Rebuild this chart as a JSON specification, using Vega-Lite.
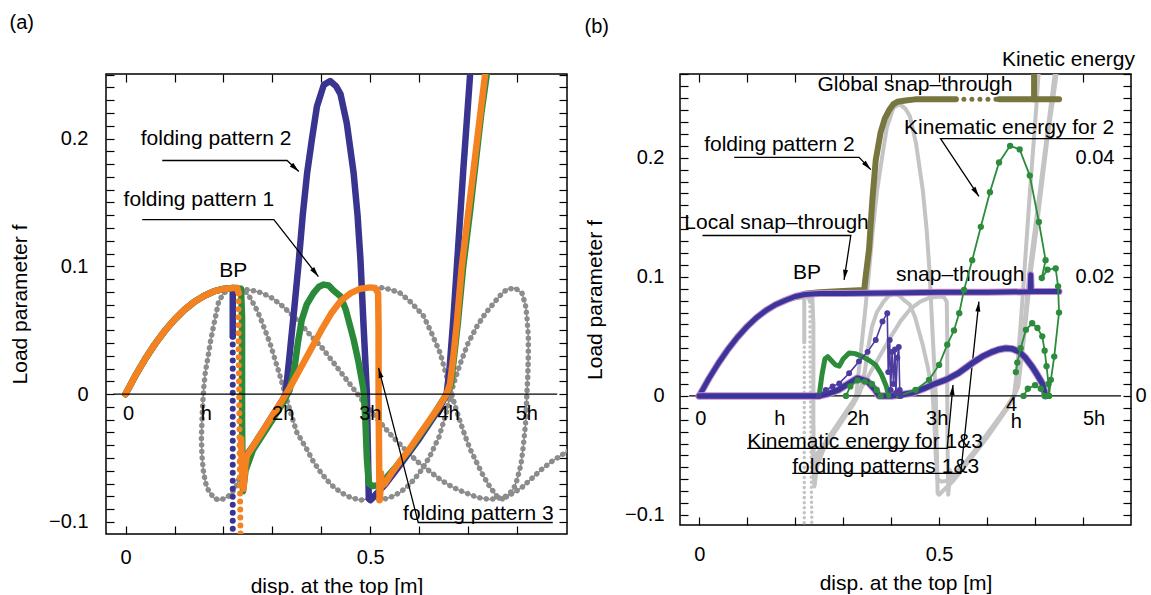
{
"$schema": "https://vega.github.io/schema/vega-lite/v6.json",
"background": "white",
"padding": {"left": 8, "top": 12, "right": 2, "bottom": 2},
"spacing": 14,
"config": {
  "font": "Liberation Sans",
  "view": {"stroke": "black", "strokeWidth": 1.5},
  "axis": {"domain": false, "grid": false, "labelFont": "Liberation Sans", "labelFontSize": 20, "labelColor": "black", "titleFont": "Liberation Sans", "titleFontSize": 21, "titleFontWeight": "normal", "titleColor": "black", "tickColor": "black", "tickWidth": 1.2, "tickSize": -8, "labelOverlap": false, "labelBound": false, "labelFlush": false},
  "title": {"font": "Liberation Sans", "fontSize": 20, "fontWeight": "normal", "color": "black", "anchor": "start", "frame": "bounds"},
  "text": {"font": "Liberation Sans", "fontSize": 21, "color": "black"}
},
"datasets": {
  "pa": [
    {"seg":"b1","k":"l","x":0,"y":0},{"seg":"b1","k":"l","x":0.02,"y":0.0144},{"seg":"b1","k":"l","x":0.04,"y":0.0274},{"seg":"b1","k":"l","x":0.06,"y":0.0391},{"seg":"b1","k":"l","x":0.08,"y":0.0494},{"seg":"b1","k":"l","x":0.1,"y":0.0583},{"seg":"b1","k":"l","x":0.12,"y":0.0659},{"seg":"b1","k":"l","x":0.14,"y":0.072},{"seg":"b1","k":"l","x":0.16,"y":0.0768},{"seg":"b1","k":"l","x":0.18,"y":0.0803},{"seg":"b1","k":"l","x":0.2,"y":0.0823},{"seg":"b1","k":"l","x":0.219,"y":0.083},{"seg":"b1","k":"l","x":0.219,"y":0.06},{"seg":"b1","k":"l","x":0.219,"y":0.045},
    {"seg":"b2","k":"d","x":0.219,"y":0.045},{"seg":"b2","k":"d","x":0.219,"y":0},{"seg":"b2","k":"d","x":0.219,"y":-0.05},{"seg":"b2","k":"d","x":0.219,"y":-0.115},
    {"seg":"b3","k":"l","x":0.243,"y":-0.05},{"seg":"b3","k":"l","x":0.26,"y":-0.041},{"seg":"b3","k":"l","x":0.28,"y":-0.029},{"seg":"b3","k":"l","x":0.3,"y":-0.017},{"seg":"b3","k":"l","x":0.32,"y":-0.005},{"seg":"b3","k":"l","x":0.327,"y":0},{"seg":"b3","k":"l","x":0.335,"y":0.03},{"seg":"b3","k":"l","x":0.345,"y":0.068},{"seg":"b3","k":"l","x":0.353,"y":0.1},{"seg":"b3","k":"l","x":0.362,"y":0.14},{"seg":"b3","k":"l","x":0.371,"y":0.173},{"seg":"b3","k":"l","x":0.381,"y":0.2},{"seg":"b3","k":"l","x":0.391,"y":0.225},{"seg":"b3","k":"l","x":0.405,"y":0.242},{"seg":"b3","k":"l","x":0.418,"y":0.245},{"seg":"b3","k":"l","x":0.43,"y":0.241},{"seg":"b3","k":"l","x":0.439,"y":0.235},{"seg":"b3","k":"l","x":0.452,"y":0.212},{"seg":"b3","k":"l","x":0.466,"y":0.173},{"seg":"b3","k":"l","x":0.474,"y":0.14},{"seg":"b3","k":"l","x":0.48,"y":0.105},{"seg":"b3","k":"l","x":0.486,"y":0.056},{"seg":"b3","k":"l","x":0.49,"y":0.025},{"seg":"b3","k":"l","x":0.493,"y":0.001},{"seg":"b3","k":"l","x":0.495,"y":-0.04},{"seg":"b3","k":"l","x":0.497,"y":-0.082},{"seg":"b3","k":"l","x":0.5,"y":-0.083},{"seg":"b3","k":"l","x":0.51,"y":-0.079},{"seg":"b3","k":"l","x":0.53,"y":-0.071},{"seg":"b3","k":"l","x":0.56,"y":-0.056},{"seg":"b3","k":"l","x":0.6,"y":-0.035},{"seg":"b3","k":"l","x":0.64,"y":-0.012},{"seg":"b3","k":"l","x":0.656,"y":0},{"seg":"b3","k":"l","x":0.662,"y":0.02},{"seg":"b3","k":"l","x":0.67,"y":0.06},{"seg":"b3","k":"l","x":0.677,"y":0.1},{"seg":"b3","k":"l","x":0.69,"y":0.175},{"seg":"b3","k":"l","x":0.704,"y":0.25},{"seg":"b3","k":"l","x":0.709,"y":0.28},
    {"seg":"g1","k":"l","x":0,"y":0},{"seg":"g1","k":"l","x":0.02,"y":0.0144},{"seg":"g1","k":"l","x":0.04,"y":0.0274},{"seg":"g1","k":"l","x":0.06,"y":0.0391},{"seg":"g1","k":"l","x":0.08,"y":0.0494},{"seg":"g1","k":"l","x":0.1,"y":0.0583},{"seg":"g1","k":"l","x":0.12,"y":0.0659},{"seg":"g1","k":"l","x":0.14,"y":0.072},{"seg":"g1","k":"l","x":0.16,"y":0.0768},{"seg":"g1","k":"l","x":0.18,"y":0.0803},{"seg":"g1","k":"l","x":0.2,"y":0.0823},{"seg":"g1","k":"l","x":0.22,"y":0.083},{"seg":"g1","k":"l","x":0.228,"y":0.083},{"seg":"g1","k":"l","x":0.236,"y":0.082},{"seg":"g1","k":"l","x":0.238,"y":0.06},{"seg":"g1","k":"l","x":0.238,"y":0.02},{"seg":"g1","k":"l","x":0.238,"y":-0.02},{"seg":"g1","k":"l","x":0.239,"y":-0.06},{"seg":"g1","k":"l","x":0.24,"y":-0.076},{"seg":"g1","k":"l","x":0.245,"y":-0.06},{"seg":"g1","k":"l","x":0.26,"y":-0.044},{"seg":"g1","k":"l","x":0.28,"y":-0.032},{"seg":"g1","k":"l","x":0.3,"y":-0.02},{"seg":"g1","k":"l","x":0.32,"y":-0.008},{"seg":"g1","k":"l","x":0.335,"y":0.003},{"seg":"g1","k":"l","x":0.345,"y":0.02},{"seg":"g1","k":"l","x":0.352,"y":0.04},{"seg":"g1","k":"l","x":0.36,"y":0.058},{"seg":"g1","k":"l","x":0.37,"y":0.07},{"seg":"g1","k":"l","x":0.384,"y":0.079},{"seg":"g1","k":"l","x":0.395,"y":0.084},{"seg":"g1","k":"l","x":0.405,"y":0.0857},{"seg":"g1","k":"l","x":0.415,"y":0.085},{"seg":"g1","k":"l","x":0.425,"y":0.081},{"seg":"g1","k":"l","x":0.439,"y":0.0766},{"seg":"g1","k":"l","x":0.45,"y":0.066},{"seg":"g1","k":"l","x":0.466,"y":0.0427},{"seg":"g1","k":"l","x":0.476,"y":0.025},{"seg":"g1","k":"l","x":0.486,"y":0.004},{"seg":"g1","k":"l","x":0.49,"y":-0.02},{"seg":"g1","k":"l","x":0.493,"y":-0.05},{"seg":"g1","k":"l","x":0.497,"y":-0.07},{"seg":"g1","k":"l","x":0.505,"y":-0.072},{"seg":"g1","k":"l","x":0.52,"y":-0.071},{"seg":"g1","k":"l","x":0.55,"y":-0.058},{"seg":"g1","k":"l","x":0.58,"y":-0.044},{"seg":"g1","k":"l","x":0.62,"y":-0.022},{"seg":"g1","k":"l","x":0.656,"y":0},{"seg":"g1","k":"l","x":0.665,"y":0.008},{"seg":"g1","k":"l","x":0.679,"y":0.056},{"seg":"g1","k":"l","x":0.69,"y":0.1},{"seg":"g1","k":"l","x":0.703,"y":0.14},{"seg":"g1","k":"l","x":0.715,"y":0.18},{"seg":"g1","k":"l","x":0.727,"y":0.22},{"seg":"g1","k":"l","x":0.738,"y":0.25},{"seg":"g1","k":"l","x":0.748,"y":0.28},
    {"seg":"o1","k":"l","x":0,"y":0},{"seg":"o1","k":"l","x":0.02,"y":0.0144},{"seg":"o1","k":"l","x":0.04,"y":0.0274},{"seg":"o1","k":"l","x":0.06,"y":0.0391},{"seg":"o1","k":"l","x":0.08,"y":0.0494},{"seg":"o1","k":"l","x":0.1,"y":0.0583},{"seg":"o1","k":"l","x":0.12,"y":0.0659},{"seg":"o1","k":"l","x":0.14,"y":0.072},{"seg":"o1","k":"l","x":0.16,"y":0.0768},{"seg":"o1","k":"l","x":0.18,"y":0.0803},{"seg":"o1","k":"l","x":0.2,"y":0.0823},{"seg":"o1","k":"l","x":0.22,"y":0.083},{"seg":"o1","k":"l","x":0.228,"y":0.083},{"seg":"o1","k":"l","x":0.231,"y":0.079},
    {"seg":"o2","k":"d","x":0.231,"y":0.079},{"seg":"o2","k":"d","x":0.231,"y":0.04},{"seg":"o2","k":"d","x":0.232,"y":0},{"seg":"o2","k":"d","x":0.233,"y":-0.04},{"seg":"o2","k":"d","x":0.234,"y":-0.08},{"seg":"o2","k":"d","x":0.235,"y":-0.115},
    {"seg":"o3","k":"l","x":0.236,"y":-0.035},{"seg":"o3","k":"l","x":0.238,"y":-0.06},{"seg":"o3","k":"l","x":0.241,"y":-0.074},{"seg":"o3","k":"l","x":0.245,"y":-0.055},{"seg":"o3","k":"l","x":0.248,"y":-0.048},{"seg":"o3","k":"l","x":0.26,"y":-0.041},{"seg":"o3","k":"l","x":0.28,"y":-0.029},{"seg":"o3","k":"l","x":0.3,"y":-0.017},{"seg":"o3","k":"l","x":0.32,"y":-0.005},{"seg":"o3","k":"l","x":0.34,"y":0.008},{"seg":"o3","k":"l","x":0.36,"y":0.022},{"seg":"o3","k":"l","x":0.38,"y":0.036},{"seg":"o3","k":"l","x":0.4,"y":0.05},{"seg":"o3","k":"l","x":0.42,"y":0.063},{"seg":"o3","k":"l","x":0.44,"y":0.073},{"seg":"o3","k":"l","x":0.46,"y":0.079},{"seg":"o3","k":"l","x":0.48,"y":0.0825},{"seg":"o3","k":"l","x":0.5,"y":0.0835},{"seg":"o3","k":"l","x":0.51,"y":0.083},{"seg":"o3","k":"l","x":0.516,"y":0.079},{"seg":"o3","k":"l","x":0.517,"y":0.05},{"seg":"o3","k":"l","x":0.517,"y":0},{"seg":"o3","k":"l","x":0.518,"y":-0.05},{"seg":"o3","k":"l","x":0.519,"y":-0.083},{"seg":"o3","k":"l","x":0.521,"y":-0.075},{"seg":"o3","k":"l","x":0.522,"y":-0.062},{"seg":"o3","k":"l","x":0.523,"y":-0.072},{"seg":"o3","k":"l","x":0.53,"y":-0.07},{"seg":"o3","k":"l","x":0.545,"y":-0.061},{"seg":"o3","k":"l","x":0.56,"y":-0.053},{"seg":"o3","k":"l","x":0.58,"y":-0.043},{"seg":"o3","k":"l","x":0.6,"y":-0.032},{"seg":"o3","k":"l","x":0.62,"y":-0.021},{"seg":"o3","k":"l","x":0.64,"y":-0.01},{"seg":"o3","k":"l","x":0.656,"y":0},{"seg":"o3","k":"l","x":0.663,"y":0.008},{"seg":"o3","k":"l","x":0.67,"y":0.03},{"seg":"o3","k":"l","x":0.677,"y":0.056},{"seg":"o3","k":"l","x":0.687,"y":0.1},{"seg":"o3","k":"l","x":0.7,"y":0.141},{"seg":"o3","k":"l","x":0.71,"y":0.172},{"seg":"o3","k":"l","x":0.72,"y":0.204},{"seg":"o3","k":"l","x":0.735,"y":0.251},{"seg":"o3","k":"l","x":0.745,"y":0.283}
  ],
  "ga": [
    {"s":"1","x":0.228,"y":0.083},{"s":"1","x":0.215,"y":0.082},{"s":"1","x":0.2,"y":0.079},{"s":"1","x":0.19,"y":0.072},{"s":"1","x":0.184,"y":0.061},{"s":"1","x":0.178,"y":0.05},{"s":"1","x":0.173,"y":0.04},{"s":"1","x":0.168,"y":0.028},{"s":"1","x":0.163,"y":0.017},{"s":"1","x":0.16,"y":0.006},{"s":"1","x":0.158,"y":-0.005},{"s":"1","x":0.156,"y":-0.022},{"s":"1","x":0.155,"y":-0.035},{"s":"1","x":0.156,"y":-0.048},{"s":"1","x":0.159,"y":-0.06},{"s":"1","x":0.163,"y":-0.069},{"s":"1","x":0.17,"y":-0.076},{"s":"1","x":0.18,"y":-0.081},{"s":"1","x":0.19,"y":-0.083},{"s":"1","x":0.2,"y":-0.082},{"s":"1","x":0.21,"y":-0.08},{"s":"1","x":0.218,"y":-0.077},{"s":"1","x":0.226,"y":-0.072},{"s":"1","x":0.232,"y":-0.066},
    {"s":"2","x":0.236,"y":0.083},{"s":"2","x":0.241,"y":0.082},{"s":"2","x":0.25,"y":0.078},{"s":"2","x":0.258,"y":0.073},{"s":"2","x":0.268,"y":0.066},{"s":"2","x":0.276,"y":0.059},{"s":"2","x":0.285,"y":0.05},{"s":"2","x":0.295,"y":0.04},{"s":"2","x":0.303,"y":0.03},{"s":"2","x":0.315,"y":0.015},{"s":"2","x":0.327,"y":-0.001},{"s":"2","x":0.34,"y":-0.018},{"s":"2","x":0.35,"y":-0.03},{"s":"2","x":0.37,"y":-0.043},{"s":"2","x":0.384,"y":-0.053},{"s":"2","x":0.4,"y":-0.062},{"s":"2","x":0.42,"y":-0.071},{"s":"2","x":0.44,"y":-0.077},{"s":"2","x":0.46,"y":-0.081},{"s":"2","x":0.48,"y":-0.083},{"s":"2","x":0.495,"y":-0.082},
    {"s":"3","x":0.235,"y":0.0825},{"s":"3","x":0.26,"y":0.081},{"s":"3","x":0.28,"y":0.079},{"s":"3","x":0.3,"y":0.075},{"s":"3","x":0.32,"y":0.069},{"s":"3","x":0.34,"y":0.062},{"s":"3","x":0.36,"y":0.054},{"s":"3","x":0.38,"y":0.045},{"s":"3","x":0.4,"y":0.037},{"s":"3","x":0.42,"y":0.027},{"s":"3","x":0.44,"y":0.017},{"s":"3","x":0.46,"y":0.007},{"s":"3","x":0.48,"y":-0.003},{"s":"3","x":0.5,"y":-0.013},{"s":"3","x":0.52,"y":-0.022},{"s":"3","x":0.54,"y":-0.031},{"s":"3","x":0.56,"y":-0.039},{"s":"3","x":0.58,"y":-0.047},{"s":"3","x":0.6,"y":-0.054},{"s":"3","x":0.62,"y":-0.06},{"s":"3","x":0.64,"y":-0.066},{"s":"3","x":0.66,"y":-0.071},{"s":"3","x":0.68,"y":-0.075},{"s":"3","x":0.7,"y":-0.078},{"s":"3","x":0.72,"y":-0.081},{"s":"3","x":0.745,"y":-0.0825},{"s":"3","x":0.77,"y":-0.081},{"s":"3","x":0.79,"y":-0.078},{"s":"3","x":0.81,"y":-0.073},{"s":"3","x":0.83,"y":-0.066},{"s":"3","x":0.85,"y":-0.059},{"s":"3","x":0.87,"y":-0.053},{"s":"3","x":0.89,"y":-0.048},{"s":"3","x":0.91,"y":-0.043},
    {"s":"4","x":0.51,"y":0.083},{"s":"4","x":0.52,"y":0.0835},{"s":"4","x":0.54,"y":0.082},{"s":"4","x":0.561,"y":0.079},{"s":"4","x":0.58,"y":0.073},{"s":"4","x":0.595,"y":0.067},{"s":"4","x":0.609,"y":0.061},{"s":"4","x":0.625,"y":0.048},{"s":"4","x":0.643,"y":0.032},{"s":"4","x":0.653,"y":0.018},{"s":"4","x":0.663,"y":0.004},{"s":"4","x":0.674,"y":-0.01},{"s":"4","x":0.684,"y":-0.022},{"s":"4","x":0.694,"y":-0.033},{"s":"4","x":0.704,"y":-0.043},{"s":"4","x":0.718,"y":-0.054},{"s":"4","x":0.731,"y":-0.064},{"s":"4","x":0.745,"y":-0.073},{"s":"4","x":0.759,"y":-0.08},{"s":"4","x":0.77,"y":-0.082},
    {"s":"5","x":0.505,"y":-0.082},{"s":"5","x":0.52,"y":-0.083},{"s":"5","x":0.54,"y":-0.081},{"s":"5","x":0.561,"y":-0.077},{"s":"5","x":0.58,"y":-0.071},{"s":"5","x":0.6,"y":-0.062},{"s":"5","x":0.62,"y":-0.05},{"s":"5","x":0.64,"y":-0.034},{"s":"5","x":0.655,"y":-0.015},{"s":"5","x":0.663,"y":-0.002},{"s":"5","x":0.672,"y":0.01},{"s":"5","x":0.684,"y":0.024},{"s":"5","x":0.7,"y":0.04},{"s":"5","x":0.718,"y":0.053},{"s":"5","x":0.735,"y":0.063},{"s":"5","x":0.752,"y":0.071},{"s":"5","x":0.765,"y":0.077},{"s":"5","x":0.779,"y":0.082},{"s":"5","x":0.796,"y":0.083},{"s":"5","x":0.81,"y":0.079},{"s":"5","x":0.817,"y":0.07},{"s":"5","x":0.82,"y":0.061},{"s":"5","x":0.823,"y":0.045},{"s":"5","x":0.823,"y":0.03},{"s":"5","x":0.822,"y":0.015},{"s":"5","x":0.82,"y":0},{"s":"5","x":0.818,"y":-0.02},{"s":"5","x":0.813,"y":-0.04},{"s":"5","x":0.808,"y":-0.055},{"s":"5","x":0.8,"y":-0.067},{"s":"5","x":0.793,"y":-0.074},{"s":"5","x":0.78,"y":-0.08},{"s":"5","x":0.77,"y":-0.082}
  ],
  "ob": [
    {"seg":"ol1","x":0,"y":0},{"seg":"ol1","x":0.02,"y":0.0144},{"seg":"ol1","x":0.04,"y":0.0274},{"seg":"ol1","x":0.06,"y":0.0391},{"seg":"ol1","x":0.08,"y":0.0494},{"seg":"ol1","x":0.1,"y":0.0583},{"seg":"ol1","x":0.12,"y":0.0659},{"seg":"ol1","x":0.14,"y":0.072},{"seg":"ol1","x":0.16,"y":0.0768},{"seg":"ol1","x":0.18,"y":0.0805},{"seg":"ol1","x":0.2,"y":0.083},{"seg":"ol1","x":0.22,"y":0.0857},{"seg":"ol1","x":0.25,"y":0.087},{"seg":"ol1","x":0.3,"y":0.088},{"seg":"ol1","x":0.344,"y":0.089},{"seg":"ol1","x":0.346,"y":0.097},{"seg":"ol1","x":0.35,"y":0.11},{"seg":"ol1","x":0.354,"y":0.123},{"seg":"ol1","x":0.361,"y":0.165},{"seg":"ol1","x":0.368,"y":0.198},{"seg":"ol1","x":0.378,"y":0.221},{"seg":"ol1","x":0.387,"y":0.233},{"seg":"ol1","x":0.396,"y":0.24},{"seg":"ol1","x":0.405,"y":0.245},{"seg":"ol1","x":0.413,"y":0.247},{"seg":"ol1","x":0.43,"y":0.248},{"seg":"ol1","x":0.45,"y":0.249},{"seg":"ol1","x":0.5,"y":0.249},{"seg":"ol1","x":0.535,"y":0.249},
    {"seg":"ol2","x":0.535,"y":0.249},{"seg":"ol2","x":0.625,"y":0.249},
    {"seg":"ol3","x":0.625,"y":0.249},{"seg":"ol3","x":0.698,"y":0.249},{"seg":"ol3","x":0.75,"y":0.249},
    {"seg":"ol4","x":0.698,"y":0.249},{"seg":"ol4","x":0.698,"y":0.29},
    {"seg":"bl","x":0,"y":0},{"seg":"bl","x":0.02,"y":0.0144},{"seg":"bl","x":0.04,"y":0.0274},{"seg":"bl","x":0.06,"y":0.0391},{"seg":"bl","x":0.08,"y":0.0494},{"seg":"bl","x":0.1,"y":0.0583},{"seg":"bl","x":0.12,"y":0.0659},{"seg":"bl","x":0.14,"y":0.072},{"seg":"bl","x":0.16,"y":0.0768},{"seg":"bl","x":0.18,"y":0.0803},{"seg":"bl","x":0.2,"y":0.0835},{"seg":"bl","x":0.22,"y":0.0852},{"seg":"bl","x":0.25,"y":0.086},{"seg":"bl","x":0.3,"y":0.086},{"seg":"bl","x":0.4,"y":0.0865},{"seg":"bl","x":0.5,"y":0.087},{"seg":"bl","x":0.6,"y":0.087},{"seg":"bl","x":0.69,"y":0.0875},{"seg":"bl","x":0.691,"y":0.1017},{"seg":"bl","x":0.692,"y":0.0877},{"seg":"bl","x":0.75,"y":0.0877}
  ],
  "ke": [
    {"s":"kb","x":0,"y":0},{"s":"kb","x":0.1,"y":0},{"s":"kb","x":0.2,"y":0},{"s":"kb","x":0.25,"y":0},{"s":"kb","x":0.27,"y":0.0004},{"s":"kb","x":0.29,"y":0.001},{"s":"kb","x":0.31,"y":0.002},{"s":"kb","x":0.33,"y":0.003},{"s":"kb","x":0.35,"y":0.0025},{"s":"kb","x":0.365,"y":0.0012},{"s":"kb","x":0.375,"y":0},{"s":"kb","x":0.4,"y":0},{"s":"kb","x":0.42,"y":0.0002},{"s":"kb","x":0.444,"y":0.0005},{"s":"kb","x":0.47,"y":0.0013},{"s":"kb","x":0.49,"y":0.002},{"s":"kb","x":0.514,"y":0.0027},{"s":"kb","x":0.54,"y":0.0038},{"s":"kb","x":0.569,"y":0.0055},{"s":"kb","x":0.59,"y":0.0066},{"s":"kb","x":0.611,"y":0.0074},{"s":"kb","x":0.625,"y":0.0078},{"s":"kb","x":0.639,"y":0.008},{"s":"kb","x":0.653,"y":0.0079},{"s":"kb","x":0.667,"y":0.0074},{"s":"kb","x":0.68,"y":0.0064},{"s":"kb","x":0.694,"y":0.0049},{"s":"kb","x":0.705,"y":0.0035},{"s":"kb","x":0.715,"y":0.0021},{"s":"kb","x":0.722,"y":0},
    {"s":"kp","x":0.25,"y":0},{"s":"kp","x":0.264,"y":0.001},{"s":"kp","x":0.278,"y":0.0016},{"s":"kp","x":0.292,"y":0.0021},{"s":"kp","x":0.3125,"y":0.0038},{"s":"kp","x":0.333,"y":0.0058},{"s":"kp","x":0.351,"y":0.0074},{"s":"kp","x":0.368,"y":0.0094},{"s":"kp","x":0.382,"y":0.0125},{"s":"kp","x":0.392,"y":0.0139},{"s":"kp","x":0.394,"y":0.004},{"s":"kp","x":0.397,"y":0.0094},{"s":"kp","x":0.399,"y":0.001},{"s":"kp","x":0.402,"y":0.0074},{"s":"kp","x":0.405,"y":0.002},{"s":"kp","x":0.408,"y":0.0078},{"s":"kp","x":0.41,"y":0.0005},{"s":"kp","x":0.413,"y":0.0064},{"s":"kp","x":0.416,"y":0.0082},{"s":"kp","x":0.418,"y":0.001},{"s":"kp","x":0.42,"y":0},
    {"s":"gs","x":0.25,"y":0},{"s":"gs","x":0.256,"y":0.0036},{"s":"gs","x":0.262,"y":0.0062},{"s":"gs","x":0.268,"y":0.0066},{"s":"gs","x":0.275,"y":0.006},{"s":"gs","x":0.284,"y":0.0052},{"s":"gs","x":0.292,"y":0.005},{"s":"gs","x":0.3,"y":0.0062},{"s":"gs","x":0.3125,"y":0.0072},{"s":"gs","x":0.325,"y":0.0071},{"s":"gs","x":0.34,"y":0.0066},{"s":"gs","x":0.354,"y":0.006},{"s":"gs","x":0.368,"y":0.0052},{"s":"gs","x":0.38,"y":0.0036},{"s":"gs","x":0.39,"y":0.0016},{"s":"gs","x":0.395,"y":0},
    {"s":"gb","x":0.306,"y":0},{"s":"gb","x":0.315,"y":0.0016},{"s":"gb","x":0.33,"y":0.0026},{"s":"gb","x":0.345,"y":0.0024},{"s":"gb","x":0.36,"y":0.002},{"s":"gb","x":0.37,"y":0.001},{"s":"gb","x":0.378,"y":0},
    {"s":"gk","x":0.417,"y":0},{"s":"gk","x":0.451,"y":0.001},{"s":"gk","x":0.479,"y":0.0027},{"s":"gk","x":0.5,"y":0.0052},{"s":"gk","x":0.517,"y":0.0086},{"s":"gk","x":0.531,"y":0.011},{"s":"gk","x":0.542,"y":0.0139},{"s":"gk","x":0.552,"y":0.0178},{"s":"gk","x":0.569,"y":0.0228},{"s":"gk","x":0.587,"y":0.0284},{"s":"gk","x":0.606,"y":0.0342},{"s":"gk","x":0.625,"y":0.0392},{"s":"gk","x":0.648,"y":0.042},{"s":"gk","x":0.668,"y":0.0414},{"s":"gk","x":0.689,"y":0.037},{"s":"gk","x":0.708,"y":0.0292},{"s":"gk","x":0.722,"y":0.0228},{"s":"gk","x":0.714,"y":0.0198},{"s":"gk","x":0.726,"y":0.0212},{"s":"gk","x":0.743,"y":0.0214},{"s":"gk","x":0.748,"y":0.0184},{"s":"gk","x":0.75,"y":0.014},{"s":"gk","x":0.74,"y":0.0066},{"s":"gk","x":0.733,"y":0.0027},{"s":"gk","x":0.729,"y":0},
    {"s":"gl1","x":0.66,"y":0.004},{"s":"gl1","x":0.663,"y":0.0056},{"s":"gl1","x":0.67,"y":0.008},{"s":"gl1","x":0.681,"y":0.0111},{"s":"gl1","x":0.694,"y":0.0122},{"s":"gl1","x":0.705,"y":0.0114},{"s":"gl1","x":0.715,"y":0.01},{"s":"gl1","x":0.72,"y":0.0076},{"s":"gl1","x":0.724,"y":0.005},{"s":"gl1","x":0.728,"y":0.002},{"s":"gl1","x":0.729,"y":0},
    {"s":"gl2","x":0.676,"y":0},{"s":"gl2","x":0.685,"y":0.0012},{"s":"gl2","x":0.7,"y":0.0018},{"s":"gl2","x":0.712,"y":0.0012},{"s":"gl2","x":0.72,"y":0}
  ],
  "tA": [
    {"t":"folding pattern 2","x":0.031,"y":0.2,"c":"l"},
    {"t":"folding pattern 1","x":-0.004,"y":0.152,"c":"l"},
    {"t":"folding pattern 3","x":0.567,"y":-0.0938,"c":"l"},
    {"t":"BP","x":0.22,"y":0.0965,"c":"c"},
    {"t":"0","x":0.006,"y":-0.0159,"c":"h"},
    {"t":"h","x":0.165,"y":-0.0159,"c":"h"},
    {"t":"2h","x":0.322,"y":-0.0159,"c":"h"},
    {"t":"3h","x":0.5,"y":-0.0159,"c":"h"},
    {"t":"4h","x":0.66,"y":-0.0159,"c":"h"},
    {"t":"5h","x":0.82,"y":-0.0159,"c":"h"}
  ],
  "tB": [
    {"t":"Kinetic energy","x":0.631,"y":0.282,"c":"l"},
    {"t":"Global snap–through","x":0.2465,"y":0.261,"c":"l"},
    {"t":"folding pattern 2","x":0.0104,"y":0.211,"c":"l"},
    {"t":"Local snap–through","x":-0.031,"y":0.145,"c":"l"},
    {"t":"Kinematic energy for 2","x":0.427,"y":0.225,"c":"l"},
    {"t":"snap–through","x":0.41,"y":0.1017,"c":"l"},
    {"t":"Kinematic energy for 1&3","x":0.1,"y":-0.0384,"c":"l"},
    {"t":"folding patterns 1&3","x":0.194,"y":-0.0594,"c":"l"},
    {"t":"BP","x":0.2245,"y":0.103,"c":"c"},
    {"t":"0","x":0.0035,"y":-0.0196,"c":"h"},
    {"t":"h","x":0.168,"y":-0.0196,"c":"h"},
    {"t":"2h","x":0.331,"y":-0.0196,"c":"h"},
    {"t":"3h","x":0.496,"y":-0.0196,"c":"h"},
    {"t":"4","x":0.651,"y":-0.008,"c":"h"},
    {"t":"h","x":0.661,"y":-0.0215,"c":"h"},
    {"t":"5h","x":0.823,"y":-0.0196,"c":"h"}
  ],
  "arA": [
    {"id":"A1","x":0.075,"y":0.1828},{"id":"A1","x":0.33,"y":0.1828},{"id":"A1","x":0.354,"y":0.1742},
    {"id":"A2","x":0.034,"y":0.1365},{"id":"A2","x":0.303,"y":0.1365},{"id":"A2","x":0.394,"y":0.092},
    {"id":"A3","x":0.873,"y":-0.1005},{"id":"A3","x":0.598,"y":-0.1005},{"id":"A3","x":0.517,"y":0.0205}
  ],
  "hdA": [
    {"id":"A1","x":0.354,"y":0.1742},{"id":"A2","x":0.394,"y":0.092},{"id":"A3","x":0.517,"y":0.0205}
  ],
  "arB": [
    {"id":"B1","x":0.0729,"y":0.2003},{"id":"B1","x":0.3333,"y":0.2003},{"id":"B1","x":0.3577,"y":0.19},
    {"id":"B2","x":0.0069,"y":0.1347},{"id":"B2","x":0.316,"y":0.1347},{"id":"B2","x":0.302,"y":0.0975},
    {"id":"B3","x":0.823,"y":0.216},{"id":"B3","x":0.503,"y":0.216},{"id":"B3","x":0.583,"y":0.1675},
    {"id":"B4","x":0.1,"y":-0.044},{"id":"B4","x":0.517,"y":-0.044},{"id":"B4","x":0.529,"y":0.0092},
    {"id":"B5","x":0.194,"y":-0.065},{"id":"B5","x":0.545,"y":-0.065},{"id":"B5","x":0.583,"y":0.0792}
  ],
  "hdB": [
    {"id":"B1","x":0.3577,"y":0.19},{"id":"B2","x":0.302,"y":0.0975},{"id":"B3","x":0.583,"y":0.1675},{"id":"B4","x":0.529,"y":0.0092},{"id":"B5","x":0.583,"y":0.0792}
  ]
},
"hconcat": [
  {
    "width": 461, "height": 460,
    "title": {"text": "(a)", "offset": 31.5},
    "resolve": {"axis": {"x": "independent", "y": "independent"}},
    "layer": [
      {
        "encoding": {
          "x": {"field": "x", "type": "quantitative", "scale": {"domain": [-0.04, 0.902], "nice": false, "zero": false},
            "axis": {"title": "disp. at the top [m]", "values": [0,0.1,0.2,0.3,0.4,0.5,0.6,0.7,0.8], "labelExpr": "datum.value==0 ? '0' : (abs(datum.value-0.5)<1e-6 ? '0.5' : '')", "labelPadding": 21, "titlePadding": 8}},
          "y": {"field": "y", "type": "quantitative", "scale": {"domain": [-0.1095, 0.2505], "nice": false, "zero": false},
            "axis": {"title": "Load parameter f", "values": [-0.1,-0.09,-0.08,-0.07,-0.06,-0.05,-0.04,-0.03,-0.02,-0.01,0,0.01,0.02,0.03,0.04,0.05,0.06,0.07,0.08,0.09,0.1,0.11,0.12,0.13,0.14,0.15,0.16,0.17,0.18,0.19,0.2,0.21,0.22,0.23,0.24,0.25], "labelExpr": "abs(datum.value*10-round(datum.value*10))<1e-6 ? format(datum.value,'.1~f') : ''", "labelPadding": 26, "titlePadding": 18}}
        },
        "layer": [
          {"data": {"name": "ga"}, "mark": {"type": "line", "color": "#8c8c8c", "strokeWidth": 1.5, "clip": true}, "encoding": {"detail": {"field": "s"}, "order": {"value": null}}},
          {"data": {"name": "ga"}, "mark": {"type": "line", "color": "#8c8c8c", "strokeWidth": 5.5, "strokeDash": [0.01, 6.5], "strokeCap": "round", "clip": true}, "encoding": {"detail": {"field": "s"}, "order": {"value": null}}},
          {"data": {"name": "pa"}, "transform": [{"filter": "datum.seg=='b1' || datum.seg=='b3'"}], "mark": {"type": "line", "color": "#38348f", "strokeWidth": 6.5, "strokeCap": "round", "strokeJoin": "round", "clip": true}, "encoding": {"detail": {"field": "seg"}, "order": {"value": null}}},
          {"data": {"name": "pa"}, "transform": [{"filter": "datum.seg=='b2'"}], "mark": {"type": "line", "color": "#38348f", "strokeWidth": 6, "strokeDash": [0.01, 8], "strokeCap": "round", "clip": true}, "encoding": {"detail": {"field": "seg"}, "order": {"value": null}}},
          {"data": {"name": "pa"}, "transform": [{"filter": "datum.seg=='g1'"}], "mark": {"type": "line", "color": "#2a8a3a", "strokeWidth": 6.5, "strokeCap": "round", "strokeJoin": "round", "clip": true}, "encoding": {"detail": {"field": "seg"}, "order": {"value": null}}},
          {"data": {"name": "pa"}, "transform": [{"filter": "datum.seg=='o1' || datum.seg=='o3'"}], "mark": {"type": "line", "color": "#f58220", "strokeWidth": 6.5, "strokeCap": "round", "strokeJoin": "round", "clip": true}, "encoding": {"detail": {"field": "seg"}, "order": {"value": null}}},
          {"data": {"name": "pa"}, "transform": [{"filter": "datum.seg=='o2'"}], "mark": {"type": "line", "color": "#f58220", "strokeWidth": 6, "strokeDash": [0.01, 8], "strokeCap": "round", "clip": true}, "encoding": {"detail": {"field": "seg"}, "order": {"value": null}}},
          {"data": {"values": [{"x": -0.025, "x2": 0.882, "y": 0}]}, "mark": {"type": "rule", "color": "black", "strokeWidth": 1.2}, "encoding": {"x2": {"field": "x2"}}},
          {"data": {"name": "arA"}, "mark": {"type": "line", "color": "black", "strokeWidth": 1.3}, "encoding": {"detail": {"field": "id"}, "order": {"value": null}}},
          {"data": {"name": "hdA"}, "transform": [{"filter": "datum.id=='A1'"}], "mark": {"type": "point", "shape": "M0,0L0.5,2L-0.5,2Z", "filled": true, "color": "black", "opacity": 1, "size": 100, "angle": 133}},
          {"data": {"name": "hdA"}, "transform": [{"filter": "datum.id=='A2'"}], "mark": {"type": "point", "shape": "M0,0L0.5,2L-0.5,2Z", "filled": true, "color": "black", "opacity": 1, "size": 100, "angle": 142}},
          {"data": {"name": "hdA"}, "transform": [{"filter": "datum.id=='A3'"}], "mark": {"type": "point", "shape": "M0,0L0.5,2L-0.5,2Z", "filled": true, "color": "black", "opacity": 1, "size": 100, "angle": 345.6}},
          {"data": {"name": "tA"}, "transform": [{"filter": "datum.c=='l'"}], "mark": {"type": "text", "align": "left", "baseline": "middle", "fontSize": 21}, "encoding": {"text": {"field": "t"}}},
          {"data": {"name": "tA"}, "transform": [{"filter": "datum.c=='c'"}], "mark": {"type": "text", "align": "center", "baseline": "middle", "fontSize": 21}, "encoding": {"text": {"field": "t"}}},
          {"data": {"name": "tA"}, "transform": [{"filter": "datum.c=='h'"}], "mark": {"type": "text", "align": "center", "baseline": "middle", "fontSize": 20}, "encoding": {"text": {"field": "t"}}}
        ]
      },
      {
        "data": {"values": [{"x": 0, "y": 0}]},
        "mark": {"type": "point", "opacity": 0},
        "encoding": {
          "x": {"field": "x", "type": "quantitative", "scale": {"domain": [-0.04, 0.902], "nice": false, "zero": false},
            "axis": {"orient": "top", "labels": false, "title": null, "values": [0,0.1,0.2,0.3,0.4,0.5,0.6,0.7,0.8]}},
          "y": {"field": "y", "type": "quantitative", "scale": {"domain": [-0.1095, 0.2505], "nice": false, "zero": false},
            "axis": {"orient": "right", "labels": false, "title": null, "values": [-0.1,-0.09,-0.08,-0.07,-0.06,-0.05,-0.04,-0.03,-0.02,-0.01,0,0.01,0.02,0.03,0.04,0.05,0.06,0.07,0.08,0.09,0.1,0.11,0.12,0.13,0.14,0.15,0.16,0.17,0.18,0.19,0.2,0.21,0.22,0.23,0.24,0.25]}}
        }
      }
    ]
  },
  {
    "width": 451, "height": 451,
    "title": {"text": "(b)", "offset": 12.5},
    "resolve": {"scale": {"y": "independent"}, "axis": {"x": "independent", "y": "independent"}},
    "layer": [
      {
        "encoding": {
          "x": {"field": "x", "type": "quantitative", "scale": {"domain": [-0.04, 0.9], "nice": false, "zero": false},
            "axis": {"title": "disp. at the top [m]", "values": [0,0.1,0.2,0.3,0.4,0.5,0.6,0.7,0.8], "labelExpr": "datum.value==0 ? '0' : (abs(datum.value-0.5)<1e-6 ? '0.5' : '')", "labelPadding": 27, "titlePadding": 8}},
          "y": {"field": "y", "type": "quantitative", "scale": {"domain": [-0.1084, 0.2703], "nice": false, "zero": false},
            "axis": {"title": "Load parameter f", "values": [-0.1,-0.09,-0.08,-0.07,-0.06,-0.05,-0.04,-0.03,-0.02,-0.01,0,0.01,0.02,0.03,0.04,0.05,0.06,0.07,0.08,0.09,0.1,0.11,0.12,0.13,0.14,0.15,0.16,0.17,0.18,0.19,0.2,0.21,0.22,0.23,0.24,0.25,0.26,0.27], "labelExpr": "abs(datum.value*10-round(datum.value*10))<1e-6 ? format(datum.value,'.1~f') : ''", "labelPadding": 24, "titlePadding": 19}}
        },
        "layer": [
          {"data": {"name": "pa"}, "transform": [{"filter": "datum.k=='l'"}], "mark": {"type": "line", "color": "#c4c4c4", "strokeWidth": 4, "strokeCap": "round", "strokeJoin": "round", "clip": true}, "encoding": {"detail": {"field": "seg"}, "order": {"value": null}}},
          {"data": {"name": "pa"}, "transform": [{"filter": "datum.k=='d'"}], "mark": {"type": "line", "color": "#c4c4c4", "strokeWidth": 3.5, "strokeDash": [0.01, 5], "strokeCap": "round", "clip": true}, "encoding": {"detail": {"field": "seg"}, "order": {"value": null}}},
          {"data": {"name": "ob"}, "transform": [{"filter": "datum.seg=='ol1' || datum.seg=='ol3' || datum.seg=='ol4'"}], "mark": {"type": "line", "color": "#76763e", "strokeWidth": 6, "strokeCap": "round", "strokeJoin": "round", "clip": true}, "encoding": {"detail": {"field": "seg"}, "order": {"value": null}}},
          {"data": {"name": "ob"}, "transform": [{"filter": "datum.seg=='ol2'"}], "mark": {"type": "line", "color": "#76763e", "strokeWidth": 5, "strokeDash": [0.01, 8], "strokeCap": "round", "clip": true}, "encoding": {"detail": {"field": "seg"}, "order": {"value": null}}},
          {"data": {"name": "ob"}, "transform": [{"filter": "datum.seg=='bl'"}], "mark": {"type": "line", "color": "#c98ccf", "strokeWidth": 7, "strokeCap": "round", "strokeJoin": "round", "clip": true}, "encoding": {"order": {"value": null}}},
          {"data": {"name": "ob"}, "transform": [{"filter": "datum.seg=='bl'"}], "mark": {"type": "line", "color": "#3a3599", "strokeWidth": 5, "strokeCap": "round", "strokeJoin": "round", "clip": true}, "encoding": {"order": {"value": null}}},
          {"data": {"values": [{"x": -0.021, "x2": 0.879, "y": 0}]}, "mark": {"type": "rule", "color": "black", "strokeWidth": 1.2}, "encoding": {"x2": {"field": "x2"}}},
          {"data": {"name": "arB"}, "mark": {"type": "line", "color": "black", "strokeWidth": 1.3}, "encoding": {"detail": {"field": "id"}, "order": {"value": null}}},
          {"data": {"name": "hdB"}, "transform": [{"filter": "datum.id=='B1'"}], "mark": {"type": "point", "shape": "M0,0L0.5,2L-0.5,2Z", "filled": true, "color": "black", "opacity": 1, "size": 100, "angle": 136.4}},
          {"data": {"name": "hdB"}, "transform": [{"filter": "datum.id=='B2'"}], "mark": {"type": "point", "shape": "M0,0L0.5,2L-0.5,2Z", "filled": true, "color": "black", "opacity": 1, "size": 100, "angle": 188.6}},
          {"data": {"name": "hdB"}, "transform": [{"filter": "datum.id=='B3'"}], "mark": {"type": "point", "shape": "M0,0L0.5,2L-0.5,2Z", "filled": true, "color": "black", "opacity": 1, "size": 100, "angle": 146.4}},
          {"data": {"name": "hdB"}, "transform": [{"filter": "datum.id=='B4'"}], "mark": {"type": "point", "shape": "M0,0L0.5,2L-0.5,2Z", "filled": true, "color": "black", "opacity": 1, "size": 100, "angle": 5.3}},
          {"data": {"name": "hdB"}, "transform": [{"filter": "datum.id=='B5'"}], "mark": {"type": "point", "shape": "M0,0L0.5,2L-0.5,2Z", "filled": true, "color": "black", "opacity": 1, "size": 100, "angle": 6.1}},
          {"data": {"name": "tB"}, "transform": [{"filter": "datum.c=='l'"}], "mark": {"type": "text", "align": "left", "baseline": "middle", "fontSize": 21}, "encoding": {"text": {"field": "t"}}},
          {"data": {"name": "tB"}, "transform": [{"filter": "datum.c=='c'"}], "mark": {"type": "text", "align": "center", "baseline": "middle", "fontSize": 21}, "encoding": {"text": {"field": "t"}}},
          {"data": {"name": "tB"}, "transform": [{"filter": "datum.c=='h'"}], "mark": {"type": "text", "align": "center", "baseline": "middle", "fontSize": 20}, "encoding": {"text": {"field": "t"}}}
        ]
      },
      {
        "data": {"name": "ke"},
        "encoding": {
          "x": {"field": "x", "type": "quantitative", "scale": {"domain": [-0.04, 0.9], "nice": false, "zero": false},
            "axis": {"orient": "top", "labels": false, "title": null, "values": [0,0.1,0.2,0.3,0.4,0.5,0.6,0.7,0.8]}},
          "y": {"field": "y", "type": "quantitative", "scale": {"domain": [-0.02168, 0.05406], "nice": false, "zero": false},
            "axis": {"orient": "right", "title": null, "values": [-0.02,-0.018,-0.016,-0.014,-0.012,-0.01,-0.008,-0.006,-0.004,-0.002,0,0.002,0.004,0.006,0.008,0.01,0.012,0.014,0.016,0.018,0.02,0.022,0.024,0.026,0.028,0.03,0.032,0.034,0.036,0.038,0.04,0.042,0.044,0.046,0.048,0.05,0.052,0.054], "labelExpr": "abs(datum.value*50-round(datum.value*50))<1e-6 && datum.value>-1e-9 ? format(datum.value,'~g') : ''", "labelAlign": {"condition": {"test": "datum.value==0", "value": "left"}, "value": "right"}, "labelPadding": {"condition": {"test": "datum.value==0", "value": 12}, "value": -9}}}
        },
        "layer": [
          {"transform": [{"filter": "datum.s=='kb'"}], "mark": {"type": "line", "color": "#c98ccf", "strokeWidth": 7.5, "strokeCap": "round", "strokeJoin": "round", "clip": true}, "encoding": {"order": {"value": null}}},
          {"transform": [{"filter": "datum.s=='kb'"}], "mark": {"type": "line", "color": "#3a3599", "strokeWidth": 5.5, "strokeCap": "round", "strokeJoin": "round", "clip": true}, "encoding": {"order": {"value": null}}},
          {"transform": [{"filter": "datum.s=='gs'"}], "mark": {"type": "line", "color": "#2c8c3c", "strokeWidth": 5, "strokeCap": "round", "strokeJoin": "round", "clip": true}, "encoding": {"order": {"value": null}}},
          {"transform": [{"filter": "datum.s=='gb' || datum.s=='gk' || datum.s=='gl1' || datum.s=='gl2'"}], "mark": {"type": "line", "color": "#2c8c3c", "strokeWidth": 1.8, "clip": true}, "encoding": {"detail": {"field": "s"}, "order": {"value": null}}},
          {"transform": [{"filter": "datum.s=='gb' || datum.s=='gk' || datum.s=='gl1' || datum.s=='gl2'"}], "mark": {"type": "point", "filled": true, "color": "#2c8c3c", "opacity": 1, "size": 40, "clip": true}},
          {"transform": [{"filter": "datum.s=='kp'"}], "mark": {"type": "line", "color": "#4d3b9e", "strokeWidth": 1.6, "clip": true}, "encoding": {"order": {"value": null}}},
          {"transform": [{"filter": "datum.s=='kp'"}], "mark": {"type": "point", "filled": true, "color": "#4d3b9e", "opacity": 1, "size": 35, "clip": true}}
        ]
      }
    ]
  }
]
}
